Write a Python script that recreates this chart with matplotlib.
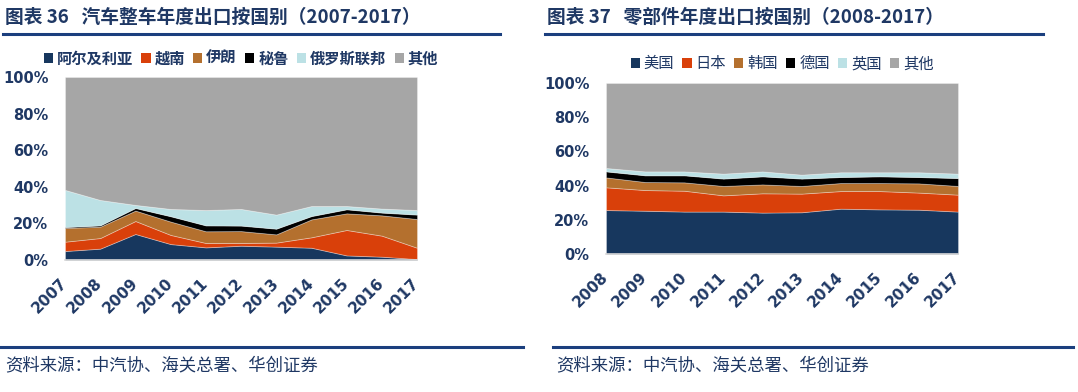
import matplotlib
matplotlib.use("Agg")
import matplotlib.pyplot as plt
from matplotlib.patches import Patch
from matplotlib.lines import Line2D
import numpy as np

plt.rcParams['font.family'] = ['DejaVu Sans', 'Noto Sans CJK SC']

# ---------- data ----------
years_left = ['2007', '2008', '2009', '2010', '2011', '2012', '2013', '2014', '2015', '2016', '2017']
left_labels = ['阿尔及利亚', '越南', '伊朗', '秘鲁', '俄罗斯联邦', '其他']
algeria = [4.9, 6.2, 14.2, 8.7, 6.9, 7.8, 7.3, 6.7, 2.5, 1.8, 0.5]
vietnam = [5.1, 5.8, 7.1, 5.0, 2.4, 1.5, 2.2, 5.7, 13.9, 11.5, 6.2]
iran = [7.5, 6.2, 5.7, 7.3, 6.4, 6.5, 4.5, 9.8, 9.1, 11.1, 15.7]
peru = [0.5, 0.7, 1.4, 2.9, 3.2, 3.0, 3.1, 1.8, 2.2, 1.5, 2.4]
russia = [20.3, 13.9, 1.7, 4.0, 8.4, 9.1, 7.7, 5.5, 1.8, 2.2, 2.5]
others_left = [61.7, 67.2, 69.9, 72.1, 72.7, 72.1, 75.2, 70.5, 70.5, 71.9, 72.7]

years_right = ['2008', '2009', '2010', '2011', '2012', '2013', '2014', '2015', '2016', '2017']
right_labels = ['美国', '日本', '韩国', '德国', '英国', '其他']
usa = [25.7, 25.3, 24.8, 24.8, 24.2, 24.4, 26.5, 26.1, 25.9, 24.8]
japan = [13.3, 12.1, 12.2, 9.5, 11.3, 10.9, 10.3, 10.7, 10.0, 9.9]
korea = [5.8, 4.7, 4.9, 5.5, 5.2, 4.5, 4.7, 4.7, 5.4, 5.1]
germany = [3.5, 3.9, 4.1, 4.3, 4.7, 4.3, 3.5, 3.9, 3.7, 4.6]
uk = [2.0, 2.3, 2.3, 2.9, 2.9, 2.3, 2.8, 2.4, 2.8, 2.6]
others_right = [49.7, 51.7, 51.7, 53.0, 51.7, 53.6, 52.2, 52.2, 52.2, 53.0]

yticks = [0, 20, 40, 60, 80, 100]
ytick_labels = ['0%', '20%', '40%', '60%', '80%', '100%']

titles = ['图表 36   汽车整车年度出口按国别（2007-2017）', '图表 37   零部件年度出口按国别（2008-2017）']
source = '资料来源：中汽协、海关总署、华创证券'

# ---------- style ----------
colors = ['#17375E', '#D9400A', '#B4702E', '#000000', '#BCE1E5', '#A6A6A6']
navy = '#1F3864'
rule = '#1B3F7E'
CJK = ['Noto Sans CJK SC', 'DejaVu Sans']

fig = plt.figure(figsize=(10.78, 3.92), dpi=100)
W, H = 1078, 392

def px_axes(x0, x1, y0, y1):
    return fig.add_axes([x0 / W, 1 - y1 / H, (x1 - x0) / W, (y1 - y0) / H])

def draw(ax, years, series, labels, legend_bold):
    x = np.arange(len(years))
    ax.stackplot(x, *series, colors=colors, edgecolor=(1, 1, 1, 0.35), linewidth=0.6)
    ax.set_xlim(0, len(years) - 1)
    ax.set_ylim(0, 100)
    ax.set_yticks(yticks)
    ax.set_yticklabels(ytick_labels, fontsize=10.5, fontweight='bold', color=navy)
    ax.set_xticks(x)
    ax.set_xticklabels(years, fontsize=11, fontweight='bold', color=navy,
                       rotation=45, ha='right', rotation_mode='anchor', va='center')
    ax.tick_params(axis='both', length=0)
    ax.tick_params(axis='y', pad=12)
    ax.tick_params(axis='x', pad=15)
    for s in ['top', 'left', 'right']:
        ax.spines[s].set_visible(False)
    ax.spines['bottom'].set_color('#D9D9D9')
    ax.spines['bottom'].set_linewidth(1.2)
    handles = [Patch(facecolor=c, edgecolor='none') for c in colors]
    leg = ax.legend(handles, labels, loc='lower center', bbox_to_anchor=(0.5, 1.0),
                    ncol=6, frameon=False, handlelength=0.6, handleheight=0.6,
                    handletextpad=0.25, columnspacing=0.55, borderaxespad=0.3,
                    prop={'family': CJK, 'size': 11,
                          'weight': 'bold' if legend_bold else 'normal'})
    for t in leg.get_texts():
        t.set_color(navy)

axL = px_axes(65, 417, 77, 260)
draw(axL, years_left, [algeria, vietnam, iran, peru, russia, others_left], left_labels, True)
axR = px_axes(606, 958, 83, 254)
draw(axR, years_right, [usa, japan, korea, germany, uk, others_right], right_labels, False)

# titles
fig.text(5 / W, 1 - 17 / H, titles[0], family=CJK, fontsize=13.5, fontweight='bold',
         color=navy, va='center', ha='left')
fig.text(547 / W, 1 - 17 / H, titles[1], family=CJK, fontsize=13.5, fontweight='bold',
         color=navy, va='center', ha='left')

# rules
for (x0, x1, y) in [(3, 500, 34), (545, 1043, 34), (1, 523, 347), (553, 1073, 347)]:
    fig.add_artist(Line2D([x0 / W, x1 / W], [1 - y / H, 1 - y / H], color=rule, linewidth=2.2))

# sources
fig.text(5 / W, 1 - 365 / H, source, family=CJK, fontsize=12.5, style='italic',
         color=navy, va='center', ha='left')
fig.text(556 / W, 1 - 365 / H, source, family=CJK, fontsize=12.5, style='italic',
         color=navy, va='center', ha='left')

fig.savefig('out.png', dpi=100)
